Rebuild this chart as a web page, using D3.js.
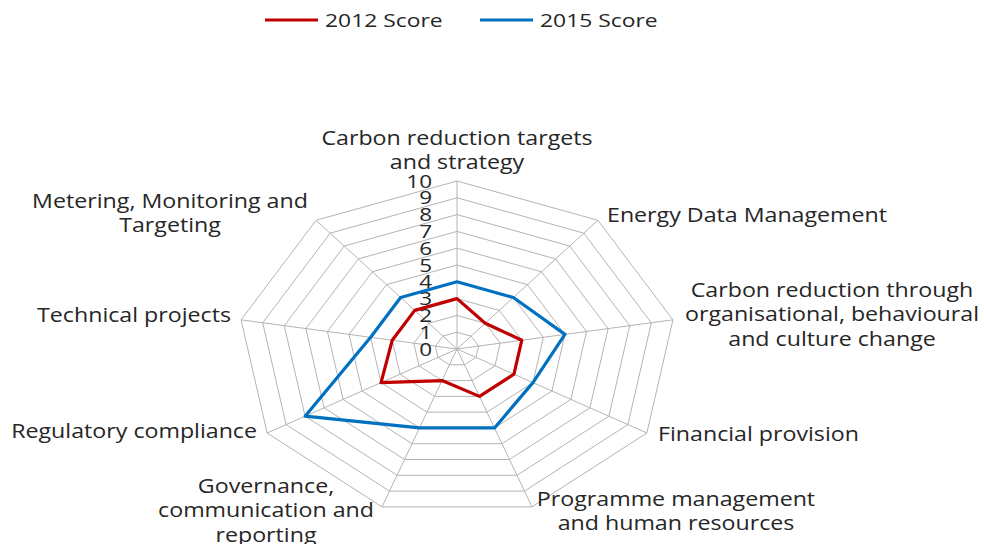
<!DOCTYPE html>
<html>
<head>
<meta charset="utf-8">
<script src="https://cdn.jsdelivr.net/npm/d3@7"></script>
<style>
  body { margin: 0; background: #fff; }
  text { font-family: "Open Sans", sans-serif; fill: #262626; }
</style>
</head>
<body>
<div id="chart"></div>
<script>
// axis names (one array per line of the wrapped label)
var categories = [
  ["Carbon reduction targets", "and strategy"],
  ["Energy Data Management"],
  ["Carbon reduction through", "organisational, behavioural", "and culture change"],
  ["Financial provision"],
  ["Programme management", "and human resources"],
  ["Governance,", "communication and", "reporting"],
  ["Regulatory compliance"],
  ["Technical projects"],
  ["Metering, Monitoring and", "Targeting"]
];
var scores2012 = [3, 2, 3, 3, 3, 2, 4, 3, 3];
var scores2015 = [4, 4, 5, 4, 5, 5, 8, 4, 4];
var seriesNames = ["2012 Score", "2015 Score"];
var tickValues = [0, 1, 2, 3, 4, 5, 6, 7, 8, 9, 10];

// layout of the wrapped labels: x, first baseline, anchor
var labelLayout = [
  [457, 145, "middle"],
  [607, 222, "start"],
  [832, 297, "middle"],
  [658, 441, "start"],
  [676, 506, "middle"],
  [266, 493, "middle"],
  [257, 438, "end"],
  [231, 322, "end"],
  [170, 208, "middle"]
];

var width = 984, height = 544;
var cx = 457, cy = 349, R = 168;
var kx = 1.305;       // the picture is stretched horizontally
var tx = 1.16;        // text stretch
var lineGap = 24.5;

var svg = d3.select('#chart').append('svg')
  .attr('width', width)
  .attr('height', height);

var r = d3.scaleLinear().domain([0, 10]).range([0, R]);
var angle = d3.scaleLinear().domain([0, categories.length]).range([0, 2 * Math.PI]);

var px = function (i, v) { return cx + kx * r(v) * Math.sin(angle(i)); };
var py = function (i, v) { return cy - r(v) * Math.cos(angle(i)); };

var idx = d3.range(categories.length);

// grid rings
svg.append('g').selectAll('polygon').data(tickValues.slice(1))
  .enter().append('polygon')
  .attr('points', function (v) {
    return idx.map(function (i) { return px(i, v) + ',' + py(i, v); }).join(' ');
  })
  .attr('fill', 'none')
  .attr('stroke', '#b4b4b4')
  .attr('stroke-width', 1);

// spokes
svg.append('g').selectAll('line').data(idx)
  .enter().append('line')
  .attr('x1', cx).attr('y1', cy)
  .attr('x2', function (i) { return px(i, 10); })
  .attr('y2', function (i) { return py(i, 10); })
  .attr('stroke', '#b4b4b4')
  .attr('stroke-width', 1);

// tick labels
svg.append('g').selectAll('text').data(tickValues)
  .enter().append('text')
  .attr('transform', function (v) { return 'translate(432,' + (py(0, v) + 6.5) + ') scale(1.25,1)'; })
  .attr('text-anchor', 'end')
  .style('font-size', '18px')
  .text(function (v) { return v; });

// series
var series = [
  { name: seriesNames[0], values: scores2012, c: '#c00000' },
  { name: seriesNames[1], values: scores2015, c: '#0070c0' }
];

svg.append('g').selectAll('path').data(series)
  .enter().append('path')
  .attr('d', function (s) {
    var pts = s.values.map(function (v, i) { return [px(i, v), py(i, v)]; });
    return d3.line().curve(d3.curveLinearClosed)(pts);
  })
  .attr('fill', 'none')
  .attr('stroke', function (s) { return s.c; })
  .attr('stroke-width', 3.2)
  .attr('stroke-linejoin', 'round');

// axis labels
var lab = svg.append('g').selectAll('text').data(categories)
  .enter().append('text')
  .attr('text-anchor', function (d, i) { return labelLayout[i][2]; })
  .attr('transform', function (d, i) {
    return 'translate(' + labelLayout[i][0] + ',' + labelLayout[i][1] + ') scale(' + tx + ',1)';
  })
  .style('font-size', '20px');
lab.selectAll('tspan').data(function (d) { return d; })
  .enter().append('tspan')
  .attr('x', 0)
  .attr('y', function (d, j) { return j * lineGap; })
  .text(function (d) { return d; });

// legend
var legendX = [265, 480];
var leg = svg.append('g').selectAll('g').data(series)
  .enter().append('g')
  .attr('transform', function (s, i) { return 'translate(' + legendX[i] + ',20)'; });
leg.append('line')
  .attr('x1', 0).attr('x2', 53)
  .attr('stroke', function (s) { return s.c; })
  .attr('stroke-width', 3);
leg.append('text')
  .attr('transform', 'translate(60,7) scale(1.27,1)')
  .style('font-size', '18px')
  .text(function (s) { return s.name; });
</script>
</body>
</html>
